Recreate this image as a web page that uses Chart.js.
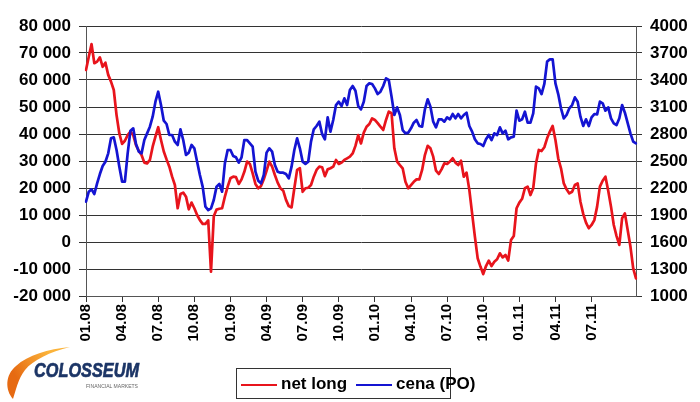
<!DOCTYPE html>
<html>
<head>
<meta charset="utf-8">
<script src="https://cdn.jsdelivr.net/npm/chart.js@4"></script>
<style>
  body { margin: 0; background: #fff; }
  #wrap { position: relative; width: 700px; height: 402px; font-family: "Liberation Sans", Arial, sans-serif; }
  #legend { position: absolute; left: 236px; top: 368px; width: 213px; height: 29px; border: 1px solid #333; background: #fff; }
  #legend span { position: absolute; font-size: 17px; font-weight: bold; color: #000; top: 5px; white-space: nowrap; }
  #legend i { position: absolute; top: 15px; height: 2px; width: 36px; }
  #logo { position: absolute; left: 0; top: 336px; }
</style>
</head>
<body>
<div id="wrap">
  <canvas id="chart" width="700" height="402"></canvas>
  <div id="legend">
    <i style="left:4px;background:#e8141c"></i><span style="left:44px">net long</span>
    <i style="left:119px;background:#1414d2"></i><span style="left:159px">cena (PO)</span>
  </div>
  <svg id="logo" width="160" height="66" viewBox="0 336 160 66">
    <defs>
      <linearGradient id="sw" x1="0" y1="0.3" x2="0.6" y2="0">
        <stop offset="0" stop-color="#e66a12"/>
        <stop offset="1" stop-color="#fbb33a"/>
      </linearGradient>
    </defs>
    <path d="M 13 399 C 5 390, 5 375, 16 366 C 28 355, 48 349, 70 347 C 50 352, 33 360, 25 370 C 18 379, 16 390, 13 399 Z" fill="url(#sw)"/>
    <text x="34" y="377" font-family="'Liberation Sans', Arial" font-size="21" font-weight="bold" font-style="italic" fill="#1c3566" stroke="#1c3566" stroke-width="0.7" textLength="105" lengthAdjust="spacingAndGlyphs">COLOSSEUM</text>
    <text x="86" y="388" font-family="'Liberation Sans', Arial" font-size="5" fill="#666" textLength="52" lengthAdjust="spacingAndGlyphs">FINANCIAL MARKETS</text>
  </svg>
</div>
<script>
// quarter labels shown on the x axis (one every 13 weeks)
const tickLabels = ["01.08", "04.08", "07.08", "10.08", "01.09", "04.09", "07.09", "10.09",
  "01.10", "04.10", "07.10", "10.10", "01.11", "04.11", "07.11"]

// weekly net long positions
const netLong = [
  63700, 68600, 73300, 66200, 66800, 68400, 64900, 66400, 61900, 59400,
  56300, 47000, 40200, 36300, 37500, 39600, 40900, 39600, 35900, 33800,
  32200, 29400, 29100, 30400, 35300, 39000, 42500, 37800, 33500, 30600,
  27900, 24200, 21100, 12500, 17800, 18300, 16800, 12100, 14600, 12500,
  10000, 8100, 6700, 6700, 8000, -11000, 9500, 12000, 12300, 12500,
  16800, 20500, 23600, 24200, 24000, 21500, 23200, 26000, 29800, 28900,
  25400, 21500, 19900, 20700, 23200, 26400, 29800, 27900, 24800, 22000,
  19900, 19000, 15600, 13300, 12800, 19900, 26700, 27300, 18600, 19900,
  20100, 21100, 24200, 26700, 27900, 27700, 24400, 26900, 27300, 27900,
  30400, 28900, 29400, 30400, 31000, 31600, 32800, 35600, 39600, 36500,
  40500, 42700, 43700, 45800, 45200, 44000, 42700, 41500, 45200, 48300,
  47700, 34700, 29800, 28500, 27300, 22300, 19900, 21100, 22300, 23200,
  23200, 26700, 32200, 35600, 34700, 31600, 26400, 25200, 26900, 29100,
  28900, 29800, 31000, 29400, 28500, 30100, 24200, 25700, 19300, 10600,
  2000, -6000, -9100, -11900, -8900, -6900, -8900, -7300, -6400, -4200,
  -5700, -4800, -6900, 700, 2200, 12500, 14600, 16000, 19900, 20500,
  17400, 19900, 29100, 34100, 33700, 35100, 38400, 40900, 43000, 37800,
  31000, 27300, 21700, 19500, 18000, 18600, 21100, 21700, 14900, 10400,
  7200, 5100, 6300, 8100, 13100, 20500, 22700, 24200, 19000, 13100,
  6300, 2200, -1100, 8800, 10600, 9400, -1700, -9800, -13500
]

// weekly price (right axis)
const cena = [
  2048, 2159, 2185, 2133, 2252, 2355, 2444, 2492, 2585, 2752,
  2763, 2622, 2437, 2270, 2270, 2585, 2837, 2863, 2689, 2604,
  2585, 2733, 2807, 2881, 2993, 3159, 3270, 3122, 2948, 2911,
  2789, 2789, 2715, 2678, 2852, 2733, 2567, 2593, 2678, 2641,
  2492, 2344, 2215, 1992, 1955, 1974, 2067, 2215, 2244, 2159,
  2474, 2622, 2622, 2555, 2541, 2481, 2541, 2733, 2733, 2696,
  2659, 2381, 2281, 2252, 2344, 2593, 2641, 2604, 2455, 2381,
  2370, 2370, 2355, 2307, 2437, 2622, 2752, 2641, 2492, 2467,
  2492, 2715, 2852, 2889, 2937, 2800, 2741, 2985, 2826, 2956,
  3122, 3159, 3111, 3196, 3122, 3289, 3333, 3281, 3111, 3074,
  3159, 3333, 3363, 3356, 3307, 3244, 3270, 3333, 3418, 3400,
  3215, 3011, 3096, 3011, 2844, 2807, 2815, 2863, 2926, 2955,
  2889, 2881, 3074, 3185, 3104, 2937, 2874, 2963, 2963, 2937,
  2985, 2963, 3022, 2974, 3022, 2974, 3011, 3037, 2889, 2826,
  2741, 2696, 2689, 2667, 2741, 2789, 2733, 2807, 2789, 2874,
  2807, 2837, 2741, 2763, 2770, 3059, 2948, 2963, 3048, 2926,
  2926, 3030, 3326, 3307, 3244, 3356, 3604, 3630, 3630, 3363,
  3244, 3085, 2974, 3011, 3085, 3122, 3207, 3159, 2993, 2889,
  2963, 2889, 2985, 3022, 3018, 3159, 3141, 3059, 3096, 2974,
  2918, 2900, 2974, 3122, 3037, 2955, 2807, 2715, 2696
]

const weeks = netLong.map((_, i) => (i % 13 === 0 ? tickLabels[i / 13] : ""))

const fmt = (v) => (v < 0 ? "-" : "") + String(Math.abs(v)).replace(/\B(?=(\d{3})+(?!\d))/g, " ")
const font = { family: "'Liberation Sans', Arial", weight: "bold", size: 17 }

new Chart(document.getElementById("chart"), {
  type: "line",
  data: {
    labels: weeks,
    datasets: [
      {
        label: "net long",
        data: netLong,
        yAxisID: "y",
        borderColor: "#e8141c",
        borderWidth: 2.7,
        borderJoinStyle: "round",
        borderCapStyle: "round",
        pointRadius: 0,
        spanGaps: true,
        order: 1
      },
      {
        label: "cena (PO)",
        data: cena,
        yAxisID: "y1",
        borderColor: "#1414d2",
        borderWidth: 2.7,
        borderJoinStyle: "round",
        borderCapStyle: "round",
        pointRadius: 0,
        spanGaps: true,
        order: 0
      }
    ]
  },
  options: {
    responsive: false,
    animation: false,
    layout: { padding: { top: 26, bottom: 56, left: 0, right: 0 } },
    plugins: { legend: { display: false }, tooltip: { enabled: false } },
    scales: {
      x: {
        grid: { drawOnChartArea: false, color: "#333", tickLength: 6 },
        border: { color: "#555" },
        ticks: {
          autoSkip: false,
          minRotation: 90,
          maxRotation: 90,
          padding: 2,
          color: "#000",
          font: { family: "'Liberation Sans', Arial", weight: "bold", size: 15 },
          callback: (v, i) => (i % 13 === 0 ? weeks[i] : null)
        },
        afterFit: (s) => { s.height = 50 }
      },
      y: {
        position: "left",
        min: -20000,
        max: 80000,
        grid: { color: "#333", tickLength: 7 },
        border: { color: "#555" },
        ticks: { stepSize: 10000, padding: 8, color: "#000", font: font, callback: fmt },
        afterFit: (s) => { s.width = 86 }
      },
      y1: {
        position: "right",
        min: 1000,
        max: 4000,
        grid: { drawOnChartArea: false, color: "#333", tickLength: 6 },
        border: { color: "#555" },
        ticks: { stepSize: 300, padding: 8, color: "#000", font: font, callback: (v) => String(v) },
        afterFit: (s) => { s.width = 64 }
      }
    }
  }
})
</script>
</body>
</html>
